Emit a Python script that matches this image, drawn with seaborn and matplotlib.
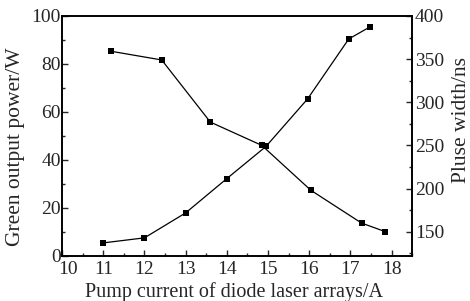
import numpy as np
import pandas as pd
import matplotlib
matplotlib.use("Agg")
import matplotlib.pyplot as plt
import matplotlib.transforms as mtransforms
import seaborn as sns
from matplotlib.ticker import MultipleLocator

# ----------------------------------------------------------
# DATA
# ----------------------------------------------------------
current_power = [11.0, 12.0, 13.0, 14.0, 14.95, 15.96, 16.96, 17.47]
green_power = [5.4, 7.5, 17.9, 32.2, 45.6, 65.4, 90.4, 95.4]

current_pulse = [11.2, 12.42, 13.6, 14.85, 16.04, 17.27, 17.85]
pulse_width = [359, 349, 277, 250, 198, 160, 150]

x_ticks = [10, 11, 12, 13, 14, 15, 16, 17, 18]

X_LABEL = "Pump current of diode laser arrays/A"
Y1_LABEL = "Green output power/W"
Y2_LABEL = "Pluse width/ns"

df_power = pd.DataFrame({"current": current_power, "power": green_power})
df_pulse = pd.DataFrame({"current": current_pulse, "pulse": pulse_width})

# ----------------------------------------------------------
# STYLE
# ----------------------------------------------------------
sns.set_style("ticks")
plt.rcParams["font.family"] = ["Liberation Serif", "DejaVu Serif"]
plt.rcParams["font.size"] = 14
plt.rcParams["xtick.direction"] = "in"
plt.rcParams["ytick.direction"] = "in"

fig = plt.figure(figsize=(4.7, 3.01), dpi=100)
ax = fig.add_axes([0.132, 0.150, 0.745, 0.797])
ax2 = ax.twinx()

sns.lineplot(data=df_power, x="current", y="power", ax=ax, color="black",
             marker="s", markersize=4.5, linewidth=0.9, markeredgewidth=0)
sns.lineplot(data=df_pulse, x="current", y="pulse", ax=ax2, color="black",
             marker="s", markersize=4.5, linewidth=0.9, markeredgewidth=0)

ax.set_xlim(10, 18.5)
ax.set_ylim(0, 100)
ax2.set_ylim(122, 400)

ax.set_xticks(x_ticks)
ax.xaxis.set_minor_locator(MultipleLocator(0.5))
ax.yaxis.set_major_locator(MultipleLocator(20))
ax.yaxis.set_minor_locator(MultipleLocator(10))
ax2.set_yticks([150, 200, 250, 300, 350, 400])
ax2.yaxis.set_minor_locator(MultipleLocator(25))

for a in (ax, ax2):
    a.tick_params(which="major", length=4, width=1, labelsize=14, pad=1)
    a.tick_params(which="minor", length=2.5, width=1)
    for s in a.spines.values():
        s.set_linewidth(1.2)
        s.set_color("black")
ax.tick_params(axis="x", which="major", pad=4)
ax2.tick_params(axis="y", which="major", pad=2)

# nudge the "10" and "0" labels apart, as in the reference
fig.canvas.draw()
first_x = ax.get_xticklabels()[0]
first_x.set_transform(first_x.get_transform()
                      + mtransforms.ScaledTranslation(6 / 100, 0, fig.dpi_scale_trans))
first_y = ax.get_yticklabels()[0]
first_y.set_transform(first_y.get_transform()
                      + mtransforms.ScaledTranslation(-2 / 100, 1 / 100, fig.dpi_scale_trans))

ax.set_xlabel(X_LABEL, fontsize=14.5)
ax.xaxis.set_label_coords(0.49, -0.11)
ax.set_ylabel(Y1_LABEL, fontsize=15.5)
ax.yaxis.set_label_coords(-0.105, 0.455)
ax2.set_ylabel(Y2_LABEL, fontsize=15.5)
ax2.yaxis.set_label_coords(1.115, 0.565)

fig.savefig("out.png", dpi=100)
